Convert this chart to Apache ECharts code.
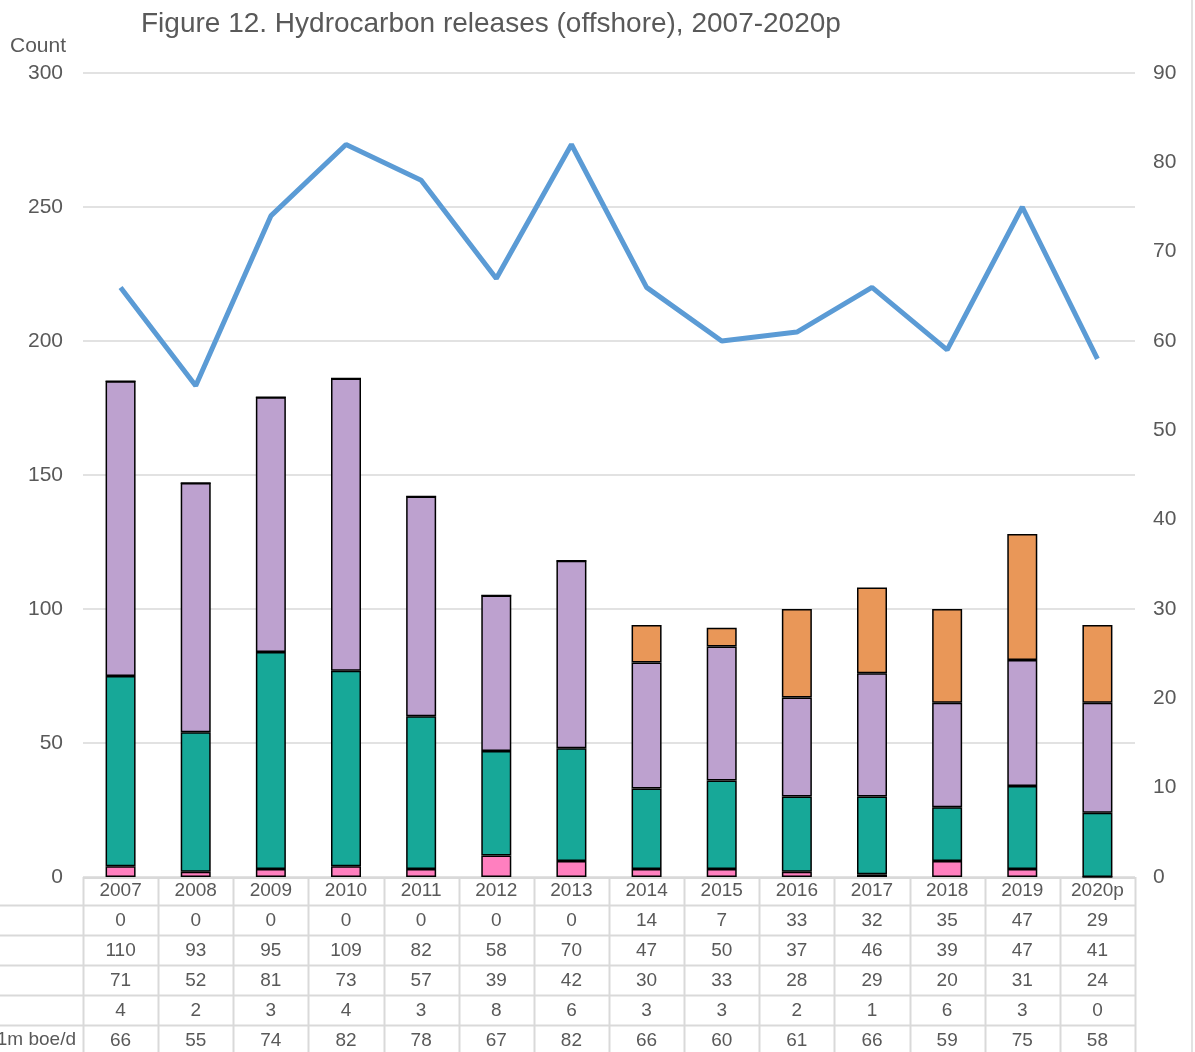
<!DOCTYPE html>
<html>
<head>
<meta charset="utf-8">
<script src="https://cdn.jsdelivr.net/npm/echarts@6/dist/echarts.min.js"></script>
<style>
  html, body { margin: 0; padding: 0; background: #fff; }
  #chart { width: 1195px; height: 1052px; }
</style>
</head>
<body>
<div id="chart"></div>
<script>
// Offshore hydrocarbon releases by year, with rate per 1m boe/d
const years = ['2007','2008','2009','2010','2011','2012','2013','2014','2015','2016','2017','2018','2019','2020p'];
const rowTop    = [0, 0, 0, 0, 0, 0, 0, 14, 7, 33, 32, 35, 47, 29];
const rowPurple = [110, 93, 95, 109, 82, 58, 70, 47, 50, 37, 46, 39, 47, 41];
const rowTeal   = [71, 52, 81, 73, 57, 39, 42, 30, 33, 28, 29, 20, 31, 24];
const rowPink   = [4, 2, 3, 4, 3, 8, 6, 3, 3, 2, 1, 6, 3, 0];
const perBoe    = [66, 55, 74, 82, 78, 67, 82, 66, 60, 61, 66, 59, 75, 58];
const leftTicks = { min: 0, max: 300, interval: 50 };
const rightTicks = { min: 0, max: 90, interval: 10 };

const GRAY = '#595959';
const GRID_LINE = '#d9d9d9';
const FONT = 'Liberation Sans, Arial, sans-serif';

const chart = echarts.init(document.getElementById('chart'), null, { renderer: 'canvas' });

// table rows beneath the axis, top to bottom
const tableRows = [rowTop, rowPurple, rowTeal, rowPink, perBoe];

const xAxes = [{
  type: 'category',
  data: years,
  gridIndex: 0,
  position: 'bottom',
  axisLine: { show: false },
  axisTick: { show: false },
  axisLabel: { interval: 0, margin: 4, color: GRAY, fontSize: 19, lineHeight: 19, fontFamily: FONT }
}];
tableRows.forEach((row, k) => {
  xAxes.push({
    type: 'category',
    data: years,
    gridIndex: 0,
    position: 'bottom',
    offset: 30 * (k + 1),
    axisLine: { show: false },
    axisTick: { show: false },
    splitLine: { show: false },
    axisLabel: {
      interval: 0, margin: 4, color: GRAY, fontSize: 19, lineHeight: 19, fontFamily: FONT,
      formatter: (v, i) => String(row[i])
    }
  });
});

const barBase = {
  type: 'bar',
  stack: 'releases',
  barWidth: 30,
  xAxisIndex: 0,
  yAxisIndex: 0,
  itemStyle: { borderColor: '#000', borderWidth: 1.5 }
};

chart.setOption({
  animation: false,
  backgroundColor: '#fff',
  textStyle: { fontFamily: FONT },
  title: {
    text: 'Figure 12. Hydrocarbon releases (offshore), 2007-2020p',
    left: 136, top: 5,
    textStyle: { color: GRAY, fontSize: 28, fontWeight: 'normal', fontFamily: FONT }
  },
  grid: { left: 83, right: 60, top: 73, bottom: 175, containLabel: false },
  xAxis: xAxes,
  yAxis: [{
    type: 'value',
    min: leftTicks.min, max: leftTicks.max, interval: leftTicks.interval,
    name: 'Count',
    nameLocation: 'end',
    nameGap: 16,
    nameTextStyle: { color: GRAY, fontSize: 21, align: 'right', padding: [0, 17, 0, 0], fontFamily: FONT },
    axisLine: { show: false },
    axisTick: { show: false },
    axisLabel: { color: GRAY, fontSize: 21, margin: 20, fontFamily: FONT },
    splitLine: { lineStyle: { color: GRID_LINE, width: 1.5 } }
  }, {
    type: 'value',
    min: rightTicks.min, max: rightTicks.max, interval: rightTicks.interval,
    position: 'right',
    axisLine: { show: false },
    axisTick: { show: false },
    axisLabel: { color: GRAY, fontSize: 21, margin: 18, fontFamily: FONT },
    splitLine: { show: false }
  }],
  series: [
    Object.assign({}, barBase, { name: 'Major', data: rowPink, itemStyle: Object.assign({}, barBase.itemStyle, { color: '#ff7fbf' }) }),
    Object.assign({}, barBase, { name: 'Significant', data: rowTeal, itemStyle: Object.assign({}, barBase.itemStyle, { color: '#17a898' }) }),
    Object.assign({}, barBase, { name: 'Minor', data: rowPurple, itemStyle: Object.assign({}, barBase.itemStyle, { color: '#bda1cf' }) }),
    Object.assign({}, barBase, { name: 'Unclassified', data: rowTop, itemStyle: Object.assign({}, barBase.itemStyle, { color: '#e99758' }) }),
    {
      name: 'per 1m boe/d',
      type: 'line',
      xAxisIndex: 0,
      yAxisIndex: 1,
      data: perBoe,
      symbol: 'none',
      lineStyle: { color: '#5b9bd5', width: 5 },
      z: 5
    }
  ]
});

// table grid lines under the plot, placed from the category axis
function drawTable() {
  const g = [];
  const x0 = chart.convertToPixel({ xAxisIndex: 0 }, 0);
  const x1 = chart.convertToPixel({ xAxisIndex: 0 }, 1);
  const band = x1 - x0;
  const left = x0 - band / 2;
  const right = left + band * years.length;
  const axisY = chart.convertToPixel({ yAxisIndex: 0 }, 0);
  const headerBottom = axisY + 28;
  const bottom = 1052;
  const lineStyle = { stroke: GRID_LINE, lineWidth: 2 };
  for (let i = 0; i <= years.length; i++) {
    const x = Math.round(left + band * i) + 0.5;
    g.push({ type: 'line', shape: { x1: x, y1: axisY, x2: x, y2: bottom }, style: lineStyle, silent: true });
  }
  g.push({ type: 'line', shape: { x1: left, y1: axisY + 1, x2: right, y2: axisY + 1 }, style: lineStyle, silent: true });
  for (let k = 0; k < tableRows.length; k++) {
    const y = Math.round(headerBottom + 30 * k) + 0.5;
    g.push({ type: 'line', shape: { x1: 0, y1: y, x2: right, y2: y }, style: lineStyle, silent: true });
  }
  // row caption for the rate row, clipped at the left edge
  g.push({
    type: 'text', x: 76, y: headerBottom + 30 * 4 + 15,
    style: { text: 'per 1m boe/d', align: 'right', verticalAlign: 'middle', fill: GRAY, fontSize: 19, fontFamily: FONT }, silent: true
  });
  // outer right border
  g.push({ type: 'line', shape: { x1: 1192, y1: 0, x2: 1192, y2: bottom }, style: { stroke: GRID_LINE, lineWidth: 1.5 }, silent: true });
  chart.setOption({ graphic: g });
}
drawTable();
</script>
</body>
</html>
